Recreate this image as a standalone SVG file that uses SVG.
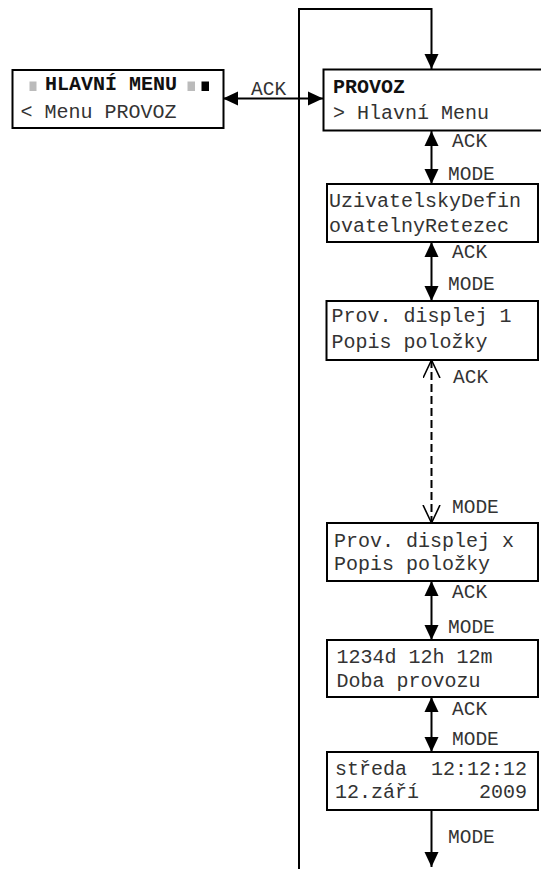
<svg xmlns="http://www.w3.org/2000/svg" width="541" height="869" viewBox="0 0 541 869">
<style>
.box{fill:#fff;stroke:#000;stroke-width:2}
.t{font-family:"Liberation Mono","Courier New",monospace;font-size:20px;fill:#333;white-space:pre}
.b{font-weight:bold;fill:#111}
.lbl{font-family:"Liberation Mono","Courier New",monospace;font-size:19.5px;fill:#333}
.c{fill:none;stroke:#000;stroke-width:2}
.d{stroke-dasharray:8,4}
</style>
<defs>
<marker id="ah" markerUnits="userSpaceOnUse" markerWidth="16" markerHeight="16" refX="15" refY="7" orient="auto-start-reverse" viewBox="0 0 16 14">
<path d="M0,0 L15,7 L0,14 z" fill="#000"/>
</marker>
<marker id="oh" markerUnits="userSpaceOnUse" markerWidth="20" markerHeight="19" refX="18" refY="9" orient="auto-start-reverse" viewBox="0 0 20 19">
<path d="M0,0.5 L18,9 L0,17.5" fill="none" stroke="#000" stroke-width="1.6"/>
</marker>
</defs>
<g id="connectors">
<path class="c" d="M299,869 V9 H431.5 V69" marker-end="url(#ah)"/>
<path class="c" d="M223,98.5 H323" marker-start="url(#ah)" marker-end="url(#ah)"/>
<path class="c" d="M431.5,131 V184" marker-start="url(#ah)" marker-end="url(#ah)"/>
<path class="c" d="M431.5,242 V301" marker-start="url(#ah)" marker-end="url(#ah)"/>
<path class="c d" d="M431.5,360 V523" marker-start="url(#oh)" marker-end="url(#oh)"/>
<path class="c" d="M431.5,581 V640" marker-start="url(#ah)" marker-end="url(#ah)"/>
<path class="c" d="M431.5,697 V752" marker-start="url(#ah)" marker-end="url(#ah)"/>
<path class="c" d="M431.5,810 V867" marker-end="url(#ah)"/>
<text class="lbl" x="251" y="95">ACK</text>
<text class="lbl" x="452" y="147">ACK</text>
<text class="lbl" x="448" y="180">MODE</text>
<text class="lbl" x="452" y="258">ACK</text>
<text class="lbl" x="448" y="290">MODE</text>
<text class="lbl" x="453" y="383">ACK</text>
<text class="lbl" x="452" y="513">MODE</text>
<text class="lbl" x="452" y="598">ACK</text>
<text class="lbl" x="448" y="633">MODE</text>
<text class="lbl" x="452" y="715">ACK</text>
<text class="lbl" x="452" y="745">MODE</text>
<text class="lbl" x="448" y="843">MODE</text>
</g>
<g id="hlavni-menu">
<rect class="box" x="12.5" y="70" width="211" height="58"/>
<rect x="29.5" y="81.5" width="7" height="9.5" fill="#bbb"/>
<text class="t b" x="45" y="90">HLAVNÍ MENU</text>
<rect x="187.5" y="81.5" width="7.5" height="9.5" fill="#bbb"/>
<rect x="201.5" y="81.5" width="7.5" height="9.5" fill="#000"/>
<text class="t" x="20.5" y="118">&lt; Menu PROVOZ</text>
</g>
<g id="provoz">
<rect class="box" x="323.5" y="69.5" width="230" height="61"/>
<text class="t b" x="333" y="93">PROVOZ</text>
<text class="t" x="333" y="119">&gt; Hlavní Menu</text>
</g>
<g id="uzivatelsky">
<rect class="box" x="327" y="184" width="211" height="58"/>
<text class="t" x="329" y="207">UzivatelskyDefin</text>
<text class="t" x="329" y="232">ovatelnyRetezec</text>
</g>
<g id="prov-displej-1">
<rect class="box" x="326.5" y="301" width="211.5" height="59"/>
<text class="t" x="331.5" y="322">Prov. displej 1</text>
<text class="t" x="331.5" y="348">Popis položky</text>
</g>
<g id="prov-displej-x">
<rect class="box" x="327" y="523" width="211" height="58"/>
<text class="t" x="334" y="547">Prov. displej x</text>
<text class="t" x="334" y="570">Popis položky</text>
</g>
<g id="doba-provozu">
<rect class="box" x="327" y="640" width="211" height="57"/>
<text class="t" x="336.5" y="663">1234d 12h 12m</text>
<text class="t" x="336.5" y="687">Doba provozu</text>
</g>
<g id="datum">
<rect class="box" x="327" y="752" width="211" height="58"/>
<text class="t" x="335" y="775" xml:space="preserve">středa  12:12:12</text>
<text class="t" x="335" y="798" xml:space="preserve">12.září     2009</text>
</g>
</svg>
